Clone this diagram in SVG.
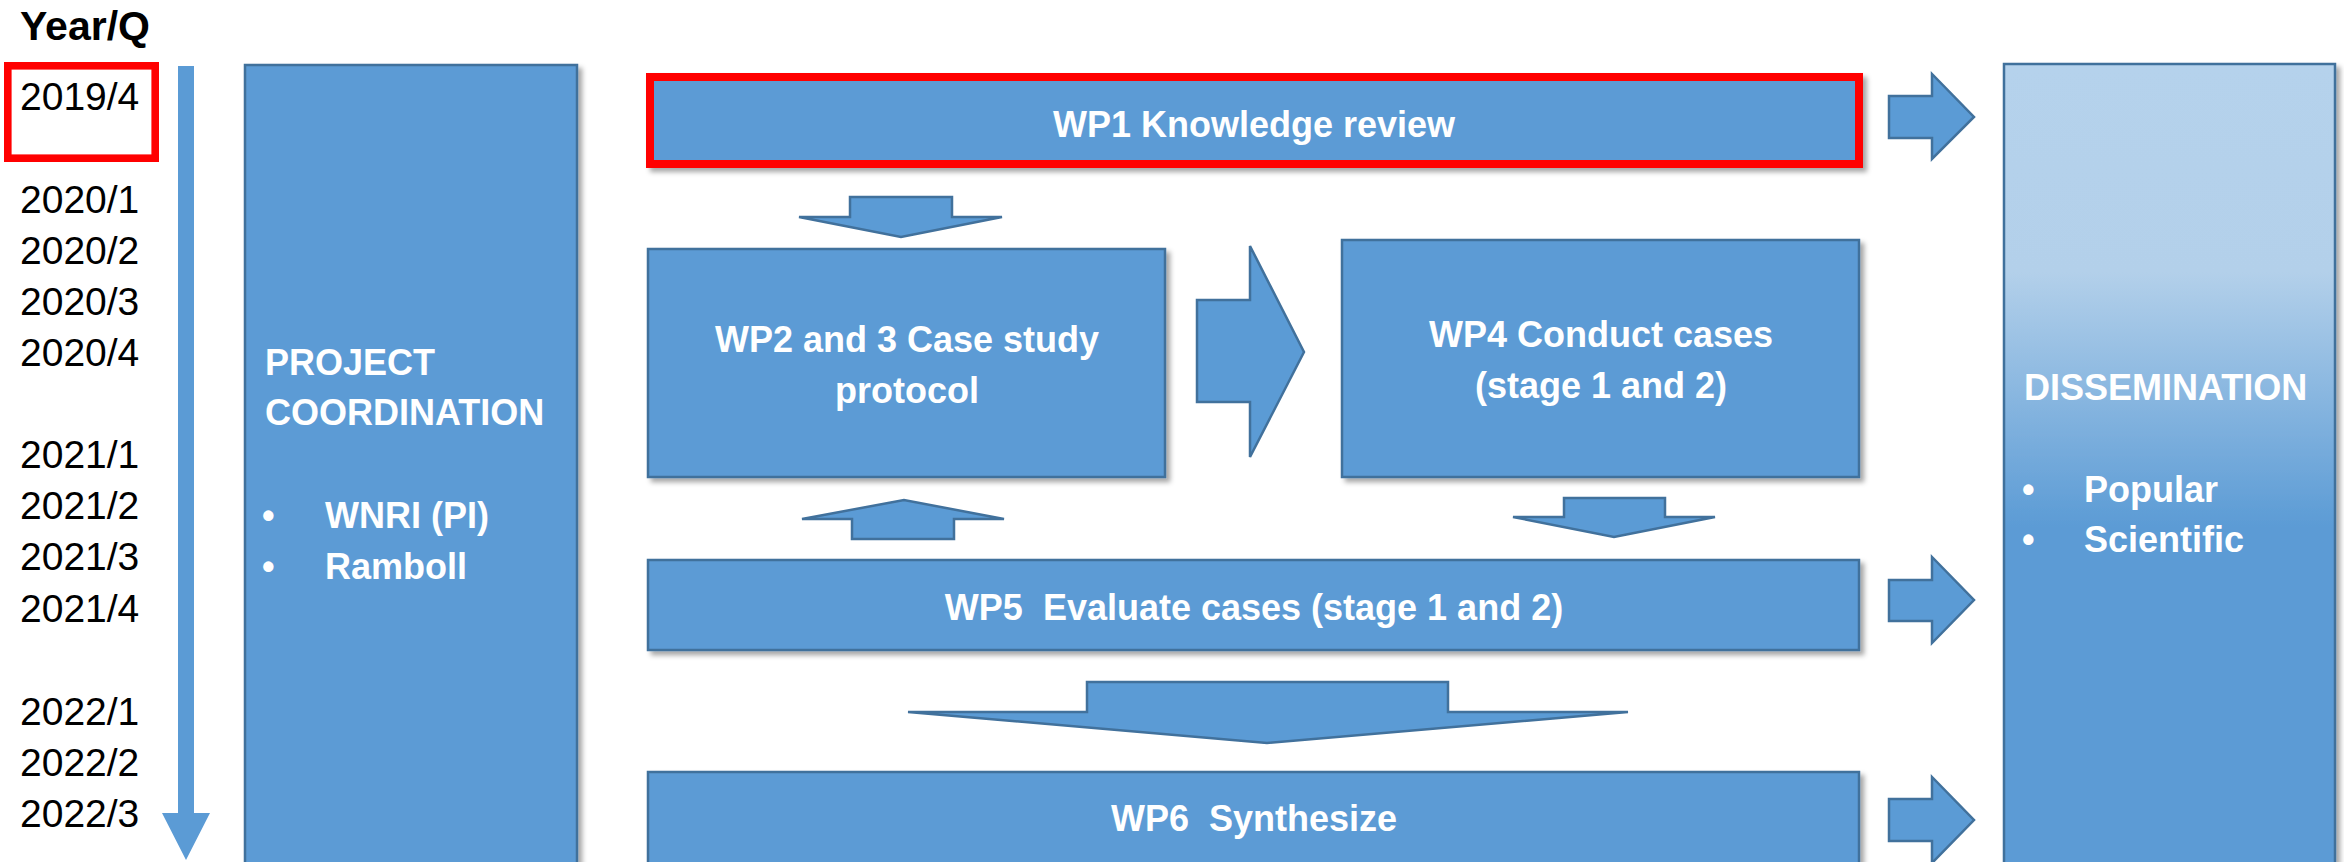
<svg xmlns="http://www.w3.org/2000/svg" width="2344" height="862" viewBox="0 0 2344 862">
<style>
.box{fill:#5B9BD5;stroke:#41719C;stroke-width:2.5}
.arr{fill:#5B9BD5;stroke:#41719C;stroke-width:2.5;stroke-linejoin:miter}
.t{font-family:"Liberation Sans",Arial,sans-serif;font-weight:bold;font-size:36px;fill:#FFFFFF}
.tc{text-anchor:middle}
.yr{font-family:"Liberation Sans",Arial,sans-serif;font-size:39px;fill:#000000}
</style>
<defs>
<filter id="sh" x="-5%" y="-5%" width="115%" height="120%">
<feDropShadow dx="4" dy="4" stdDeviation="2.5" flood-color="#000" flood-opacity="0.35"/>
</filter>
<linearGradient id="dg" x1="0" y1="0" x2="0" y2="1">
<stop offset="0" stop-color="#B5D2EC"/>
<stop offset="0.26" stop-color="#B3D0EA"/>
<stop offset="0.58" stop-color="#5B9BD5"/>
<stop offset="1" stop-color="#5B9BD5"/>
</linearGradient>
</defs>
<rect width="2344" height="862" fill="#FFFFFF"/>

<g id="timeline">
<text x="20" y="40" font-family="Liberation Sans,Arial,sans-serif" font-weight="bold" font-size="41" fill="#000">Year/Q</text>
<rect x="7.8" y="65.8" width="147.4" height="92.4" fill="none" stroke="#FF0000" stroke-width="7.6"/>
<text class="yr" x="20" y="110">2019/4</text>
<text class="yr" x="20" y="213">2020/1</text>
<text class="yr" x="20" y="264">2020/2</text>
<text class="yr" x="20" y="315">2020/3</text>
<text class="yr" x="20" y="366">2020/4</text>
<text class="yr" x="20" y="468">2021/1</text>
<text class="yr" x="20" y="519">2021/2</text>
<text class="yr" x="20" y="570">2021/3</text>
<text class="yr" x="20" y="622">2021/4</text>
<text class="yr" x="20" y="725">2022/1</text>
<text class="yr" x="20" y="776">2022/2</text>
<text class="yr" x="20" y="827">2022/3</text>
<polygon points="178,66 194,66 194,813 210,813 186,860 162,813 178,813" fill="#5B9BD5"/>
</g>

<g id="project-coordination">
<rect class="box" x="245" y="65" width="332" height="800" filter="url(#sh)"/>
<text class="t" x="265" y="375">PROJECT</text>
<text class="t" x="265" y="425">COORDINATION</text>
<text class="t" x="262" y="528">•</text>
<text class="t" x="325" y="528">WNRI (PI)</text>
<text class="t" x="262" y="579">•</text>
<text class="t" x="325" y="579">Ramboll</text>
</g>

<g id="wp1">
<rect x="650" y="77" width="1209" height="87" fill="#5B9BD5" stroke="#FF0000" stroke-width="8" filter="url(#sh)"/>
<text class="t tc" x="1254" y="137">WP1 Knowledge review</text>
</g>

<g id="wp2-3">
<rect class="box" x="648" y="249" width="517" height="228" filter="url(#sh)"/>
<text class="t tc" x="907" y="352">WP2 and 3 Case study</text>
<text class="t tc" x="907" y="403">protocol</text>
</g>

<g id="wp4">
<rect class="box" x="1342" y="240" width="517" height="237" filter="url(#sh)"/>
<text class="t tc" x="1601" y="347">WP4 Conduct cases</text>
<text class="t tc" x="1601" y="398">(stage 1 and 2)</text>
</g>

<g id="wp5">
<rect class="box" x="648" y="560" width="1211" height="90" filter="url(#sh)"/>
<text class="t tc" x="1254" y="620" xml:space="preserve">WP5  Evaluate cases (stage 1 and 2)</text>
</g>

<g id="wp6">
<rect class="box" x="648" y="772" width="1211" height="100" filter="url(#sh)"/>
<text class="t tc" x="1254" y="831" xml:space="preserve">WP6  Synthesize</text>
</g>

<g id="dissemination">
<rect x="2004" y="64" width="331" height="800" fill="url(#dg)" stroke="#41719C" stroke-width="2.5" filter="url(#sh)"/>
<text class="t" x="2024" y="400">DISSEMINATION</text>
<text class="t" x="2022" y="502">•</text>
<text class="t" x="2084" y="502">Popular</text>
<text class="t" x="2022" y="552">•</text>
<text class="t" x="2084" y="552">Scientific</text>
</g>

<g id="connectors">
<polygon class="arr" points="850,197 952,197 952,217 1002,217 901,237 799,217 850,217"/>
<polygon class="arr" points="1197,300 1250,300 1250,246 1304,352 1250,457 1250,402 1197,402"/>
<polygon class="arr" points="1564,498 1665,498 1665,517 1715,517 1614,537 1513,517 1564,517"/>
<polygon class="arr" points="852,539 954,539 954,519 1004,519 904,500 802,519 852,519"/>
<polygon class="arr" points="1087,682 1448,682 1448,712 1628,712 1267,743 908,712 1087,712"/>
<polygon class="arr" points="1889,96 1932,96 1932,74 1974,117 1932,159 1932,138 1889,138"/>
<polygon class="arr" points="1889,580 1932,580 1932,557 1974,600 1932,643 1932,621 1889,621"/>
<polygon class="arr" points="1889,799 1932,799 1932,777 1974,820 1932,863 1932,841 1889,841"/>
</g>
</svg>
